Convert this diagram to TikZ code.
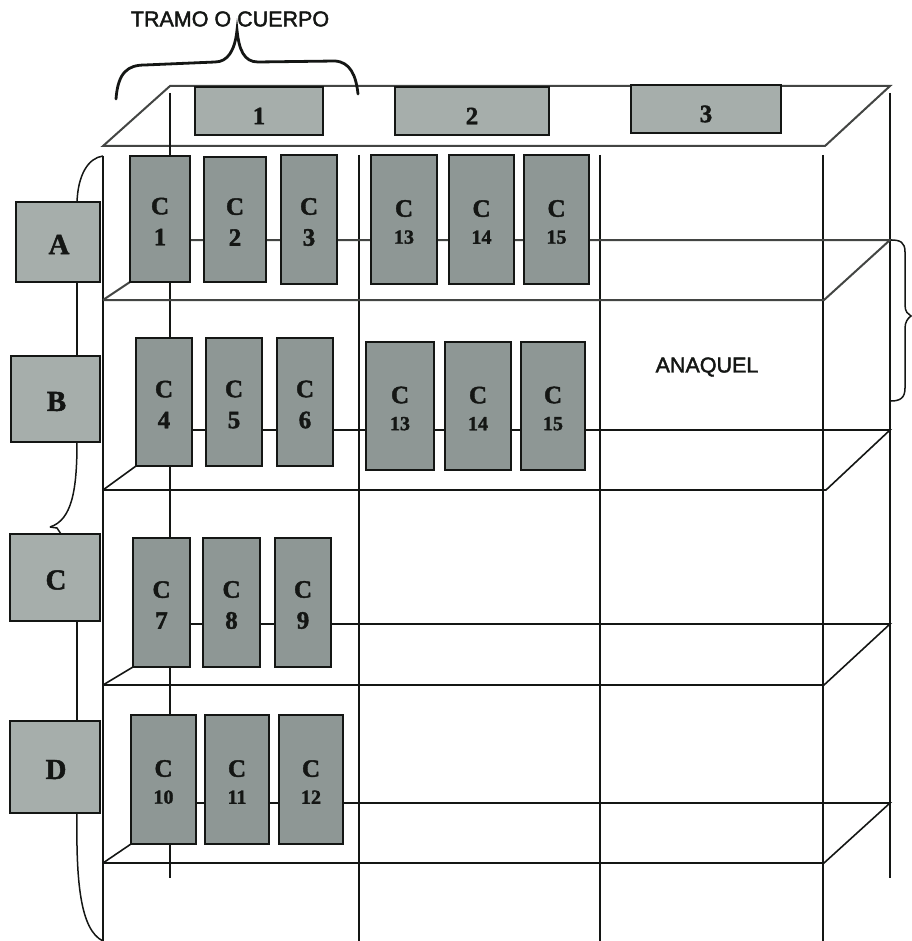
\documentclass[tikz,border=0pt]{standalone}
\usepackage{fontspec}
\setmainfont{Liberation Serif}[BoldFeatures={FakeBold=1.6}]
\newfontfamily\labelsans{Liberation Sans}[FakeBold=2]
\usetikzlibrary{backgrounds}
\definecolor{headgrey}{HTML}{A6AEAB}
\definecolor{cellgrey}{HTML}{8E9795}
\definecolor{ink}{HTML}{141614}
\newcommand{\numb}[1]{\fontsize{20}{28}\selectfont #1}
\newcommand{\mybox}[7]{%
  \node[#1,minimum width={(#4-#2)*1pt},minimum height={(#5-#3)*1pt}] (#6) at ({(#2+#4)/2},{(#3+#5)/2}) {};
  \node[#1text] (#6t) at (#6.center) {#7};}
\tikzset{
  cell/.style={draw=ink,fill=cellgrey,line width=2pt,inner sep=0pt,outer sep=0pt},
  celltext/.style={yshift=-2.5pt,inner sep=0pt,align=center,text=ink,font=\fontsize{25}{31}\selectfont\bfseries},
  head/.style={draw=ink,fill=headgrey,line width=1.8pt,inner sep=0pt,outer sep=0pt},
  headtext/.style={yshift=-5pt,inner sep=0pt,text=ink,font=\fontsize{25}{30}\selectfont\bfseries},
  row/.style={draw=ink,fill=headgrey,line width=2pt,inner sep=0pt,outer sep=0pt},
  rowtext/.style={yshift=-2.5pt,xshift=1pt,inner sep=0pt,text=ink,font=\fontsize{29}{34}\selectfont\bfseries},
  frameline/.style={draw=ink,line width=1.6pt},
  shelfline/.style={draw=ink!80,line width=2pt},
  bracethin/.style={draw=ink,line width=1.5pt},
  bracethick/.style={draw=ink,line width=2.8pt,line cap=round},
  caption/.style={text=ink,font=\labelsans\fontsize{21.5}{24}\selectfont,inner sep=0pt}
}
\begin{document}
\begin{tikzpicture}[x=1pt,y=-1pt]
\useasboundingbox (0,0) rectangle (911,941);
% header labels
\mybox{head}{195}{87}{323}{135}{h1}{1}
\mybox{head}{395}{87}{549}{135}{h2}{2}
\mybox{head}{631}{85}{781}{133}{h3}{3}
% row labels
\mybox{row}{16}{202}{100}{282}{A}{A}
\mybox{row}{11}{356}{100}{442}{B}{B}
\mybox{row}{10}{534}{100}{621}{C}{C}
\mybox{row}{10}{721}{100}{813}{D}{D}
% cells
\mybox{cell}{130}{156}{190}{282}{c1}{C\\1}
\mybox{cell}{204}{157}{266}{282}{c2}{C\\2}
\mybox{cell}{281}{155}{337}{284}{c3}{C\\3}
\mybox{cell}{371}{155}{437}{284}{c13a}{C\\[-4pt]\numb{13}}
\mybox{cell}{449}{155}{514}{284}{c14a}{C\\[-4pt]\numb{14}}
\mybox{cell}{524}{155}{589}{284}{c15a}{C\\[-4pt]\numb{15}}
\mybox{cell}{136}{338}{192}{466}{c4}{C\\4}
\mybox{cell}{206}{338}{262}{466}{c5}{C\\5}
\mybox{cell}{277}{338}{333}{466}{c6}{C\\6}
\mybox{cell}{366}{342}{434}{470}{c13b}{C\\[-4pt]\numb{13}}
\mybox{cell}{445}{342}{511}{470}{c14b}{C\\[-4pt]\numb{14}}
\mybox{cell}{521}{342}{585}{470}{c15b}{C\\[-4pt]\numb{15}}
\mybox{cell}{133}{538}{190}{667}{c7}{C\\7}
\mybox{cell}{203}{538}{260}{667}{c8}{C\\8}
\mybox{cell}{275}{538}{331}{667}{c9}{C\\9}
\mybox{cell}{131}{715}{196}{844}{c10}{C\\[-4pt]\numb{10}}
\mybox{cell}{205}{715}{269}{844}{c11}{C\\[-4pt]\numb{11}}
\mybox{cell}{279}{715}{343}{844}{c12}{C\\[-4pt]\numb{12}}
% captions
\node[caption,anchor=center] (tramo) at (230,19) {TRAMO O CUERPO};
\node[caption,anchor=center] (anaquel) at (707,367) {ANAQUEL};
% frame coordinates
\coordinate (TL) at (103,146);
\coordinate (TR) at (825,146);
\coordinate (BL) at (170,86);
\coordinate (BR) at (890,86);
\coordinate (spine) at (77,0);
\begin{scope}[on background layer]
  % top
  \draw[shelfline] (TL) -- (TR) -- (BR) -- (BL) -- cycle;
  % uprights
  \draw[frameline] (170,93) -- (170,878);
  \draw[frameline] (890,93) -- (890,878);
  \draw[frameline] (103,156) -- (103,941);
  \draw[frameline] (359,155) -- (359,941);
  \draw[frameline] (600,155) -- (600,941);
  \draw[frameline] (823,155) -- (823,941);
  % shelf 1
  \draw[shelfline] (103,300) -- (824,300) -- (890,240) -- (c1.center |- 0,240);
  \draw[shelfline] (103,300) -- (c1.south west);
  % shelf 2
  \draw[frameline] (103,490) -- (826,490) -- (890,430) -- (c4.center |- 0,430);
  \draw[frameline] (103,490) -- (c4.south west);
  % shelf 3
  \draw[frameline] (103,685) -- (824,685) -- (890,624) -- (c7.center |- 0,624);
  \draw[frameline] (103,685) -- (c7.south west);
  % shelf 4
  \draw[frameline] (103,863) -- (824,863) -- (890,803) -- (c10.center |- 0,803);
  \draw[frameline] (103,863) -- (c10.south west);
\end{scope}
% big left brace behind the row labels
\draw[bracethin] (103,156) .. controls (88,158) and (78,175) .. (A.north -| spine);
\draw[bracethin] (A.south -| spine) -- (B.north -| spine);
\draw[bracethin] (B.south -| spine) .. controls (77,490) and (72,520) .. (50,527);
\draw[bracethin] (50,527) -- (57,528) -- (61,0 |- C.north);
\draw[bracethin] (C.south -| spine) -- (D.north -| spine);
\draw[bracethin] (D.south -| spine) .. controls (76,880) and (80,930) .. (103,941);
% right brace
\draw[bracethin] (891,240) .. controls (900,240) and (905,242) .. (905,252) -- (905,305)
  .. controls (905,312) and (908,314) .. (911,316) .. controls (908,318) and (905,322) .. (905,328)
  -- (905,388) .. controls (905,398) and (900,401) .. (891,401);
% top brace
\draw[bracethick] (116,99) .. controls (118,72) and (128,65) .. (145,65) -- (215,62)
  .. controls (228,62) and (235,50) .. (237,30) .. controls (239,50) and (244,62) .. (258,62)
  -- (335,61) .. controls (350,62) and (356,75) .. (358,94);
\end{tikzpicture}
\end{document}
